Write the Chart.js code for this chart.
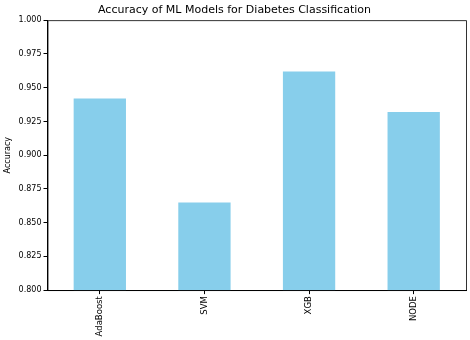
<!DOCTYPE html>
<html>
<head>
<meta charset="utf-8">
<script src="https://cdn.jsdelivr.net/npm/chart.js@4/dist/chart.umd.min.js"></script>
<style>
  html, body { margin: 0; padding: 0; background: #fff; overflow: hidden; }
  #wrap { width: 470px; height: 340px; overflow: hidden; }
</style>
</head>
<body>
<div id="wrap"><canvas id="myChart" width="470" height="350"></canvas></div>
<script>
var models = ['AdaBoost', 'SVM', 'XGB', 'NODE'];
var accuracy = [0.942, 0.865, 0.962, 0.932];
var yTicks = [0.800, 0.825, 0.850, 0.875, 0.900, 0.925, 0.950, 0.975, 1.000];

// matplotlib style frame round the plot area
var frame = {
    id: 'frame',
    afterDraw: function (chart) {
        var a = chart.chartArea, c = chart.ctx;
        c.save();
        c.strokeStyle = '#000';
        c.lineWidth = 0.8;
        c.strokeRect(a.left + 0.5, a.top + 0.5, a.right - a.left, a.bottom - a.top);
        c.restore();
    }
};

var font = 'DejaVu Sans';
var ctx = document.getElementById('myChart').getContext('2d');
var accChart = new Chart(ctx, {
    type: 'bar',
    data: {
        labels: models,
        datasets: [{
            label: 'Accuracy',
            data: accuracy,
            backgroundColor: '#87ceeb',
            borderWidth: 0,
            barPercentage: 0.5,
            categoryPercentage: 1.0
        }]
    },
    options: {
        responsive: false,
        animation: false,
        layout: { padding: { left: 3, right: 4, top: 2, bottom: 0 } },
        plugins: {
            legend: { display: false },
            tooltip: { enabled: false },
            title: {
                display: true,
                text: 'Accuracy of ML Models for Diabetes Classification',
                color: '#000',
                font: { family: font, size: 11, weight: 'normal' },
                padding: { top: 2, bottom: 3 }
            }
        },
        scales: {
            x: {
                grid: { display: true, offset: false, drawOnChartArea: false, tickLength: 4, color: '#000' },
                border: { color: '#000' },
                ticks: {
                    color: '#000', font: { family: font, size: 8.5 },
                    minRotation: 90, maxRotation: 90, padding: 2
                },
                title: {
                    display: true, text: 'Model Name', color: '#000',
                    font: { family: font, size: 8 }, padding: { top: 2, bottom: 0 }
                }
            },
            y: {
                min: 0.8,
                max: 1.0,
                afterBuildTicks: function (axis) {
                    axis.ticks = yTicks.map(function (v) { return { value: v }; });
                },
                grid: { display: true, drawOnChartArea: false, tickLength: 4, color: '#000' },
                border: { color: '#000' },
                ticks: {
                    color: '#000', font: { family: font, size: 8 }, padding: 2,
                    callback: function (v) { return Number(v).toFixed(3); }
                },
                title: {
                    display: true, text: 'Accuracy', color: '#000',
                    font: { family: font, size: 8 }, padding: { top: 0, bottom: 4 }
                }
            }
        }
    },
    plugins: [frame]
});
</script>
</body>
</html>
